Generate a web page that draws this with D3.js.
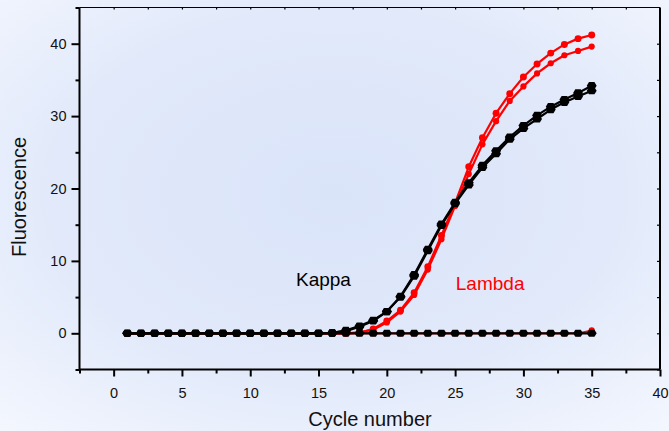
<!DOCTYPE html>
<html>
<head>
<meta charset="utf-8">
<script src="https://cdn.jsdelivr.net/npm/d3@7"></script>
<style>
html,body{margin:0;padding:0;}
svg{display:block;font-family:"Liberation Sans",Arial,sans-serif;}
</style>
</head>
<body>
<svg id="chart" width="669" height="431"></svg>
<script>
const cycles = d3.range(1, 36);
const kappa1 = [0,0,0,0,0,0,0,0,0,0,0,0,0,0,0,0.05,0.3,0.9,1.7,3.0,5.1,8.1,11.6,15.1,18.1,20.8,23.2,25.2,27.1,28.7,30.1,31.3,32.3,33.2,34.2];
const kappa2 = [0,0,0,0,0,0,0,0,0,0,0,0,0,0,0,0.05,0.4,1.0,1.8,3.0,5.0,7.9,11.4,14.9,17.9,20.5,22.9,24.8,26.8,28.3,29.6,30.9,31.9,32.7,33.5];
const lambda1 = [0,0,0,0,0,0,0,0,0,0,0,0,0,0,0,0,0,0.1,0.6,1.7,3.2,5.6,9.2,13.5,18.0,23.0,27.0,30.4,33.1,35.4,37.2,38.7,39.9,40.7,41.2];
const lambda2 = [0,0,0,0,0,0,0,0,0,0,0,0,0,0,0,0,0,0.1,0.5,1.5,3.0,5.3,8.8,13.0,17.6,22.0,26.1,29.3,32.1,34.1,35.9,37.3,38.4,39.0,39.6];
const kappaNeg = [0,0,0,0,0,0,0,0,0,0,0,0,0,0,0,0,0,0,0,0,0,0,0,0,0,0,0,0,0,0,0,0,0,0,0];
const lambdaNeg = [0,0,0,0,0,0,0,0,0,0,0,0,0,0,0,0,0,0,0,0,0,0,0,0,0,0,0,0,0,0,0,0,0,0,0.4];
const xTicks = [0,5,10,15,20,25,30,35,40];
const yTicks = [0,10,20,30,40];
const xTitle = "Cycle number";
const yTitle = "Fluorescence";
const labels = [{text:"Kappa", color:"#000000", x:13.35, y:6.5},{text:"Lambda", color:"#ff0000", x:25.05, y:6.0}];

const svg = d3.select("#chart");
const W = 669, H = 431;
const defs = svg.append("defs");
const grad = defs.append("radialGradient").attr("id","bg").attr("cx","50%").attr("cy","45%").attr("r","75%");
grad.append("stop").attr("offset","0%").attr("stop-color","#dae4f9");
grad.append("stop").attr("offset","55%").attr("stop-color","#e1e9fa");
grad.append("stop").attr("offset","100%").attr("stop-color","#f4f7fe");
svg.append("rect").attr("width",W).attr("height",H).attr("fill","url(#bg)");

const pL = 79.5, pR = 660, pT = 7.5, pB = 369.5;
const x = d3.scaleLinear().domain([-2.5, 40]).range([pL, pR]);
const y = d3.scaleLinear().domain([-5, 45]).range([pB, pT]);

const axisColor = "#000";
const g = svg.append("g");
g.append("line").attr("x1",pL).attr("x2",pR).attr("y1",pB).attr("y2",pB).attr("stroke",axisColor).attr("stroke-width",2);
g.append("line").attr("x1",pL).attr("x2",pL).attr("y1",pT).attr("y2",pB).attr("stroke",axisColor).attr("stroke-width",2);
g.append("line").attr("x1",pR).attr("x2",pR).attr("y1",pT).attr("y2",pB).attr("stroke",axisColor).attr("stroke-width",2);
g.append("line").attr("x1",pL).attr("x2",pR).attr("y1",pT).attr("y2",pT).attr("stroke",axisColor).attr("stroke-width",1.2);

const xb = svg.append("g").attr("transform",`translate(0,${pB})`)
  .call(d3.axisBottom(x).tickValues(xTicks).tickSize(7).tickPadding(11).tickFormat(d3.format("d")));
const xm = svg.append("g").attr("transform",`translate(0,${pB})`)
  .call(d3.axisBottom(x).tickValues(d3.range(-2.5, 40, 5)).tickSize(4).tickFormat(""));
const yl = svg.append("g").attr("transform",`translate(${pL},0)`)
  .call(d3.axisLeft(y).tickValues(yTicks).tickSize(8).tickPadding(5).tickFormat(d3.format("d")));
const ym = svg.append("g").attr("transform",`translate(${pL},0)`)
  .call(d3.axisLeft(y).tickValues([-5,5,15,25,35,45]).tickSize(4).tickFormat(""));
const yr = svg.append("g").attr("transform",`translate(${pR},0)`)
  .call(d3.axisLeft(y).tickValues([-5,0,5,10,15,20,25,30,35,40]).tickSize(3).tickFormat(""));
const xt = svg.append("g").attr("transform",`translate(0,${pT})`)
  .call(d3.axisBottom(x).tickValues(d3.range(0, 40, 2.5)).tickSize(2).tickFormat(""));
[xb,xm,yl,ym,yr,xt].forEach(a=>{
  a.select(".domain").remove();
  a.selectAll(".tick line").attr("stroke",axisColor).attr("stroke-width",2);
  a.selectAll("text").attr("font-size","14.5px").attr("fill","#111").attr("font-family","Liberation Sans, Arial, sans-serif");
});
xt.selectAll(".tick line").attr("stroke-width",1.2);
yr.selectAll(".tick line").attr("stroke-width",1.2);

svg.append("text").attr("x",370).attr("y",426).attr("text-anchor","middle")
  .attr("font-size","20px").attr("fill","#111").text(xTitle);
svg.append("text").attr("transform","translate(26,197) rotate(-90)").attr("text-anchor","middle")
  .attr("font-size","20px").attr("fill","#111").text(yTitle);

// blob marker: hexagon pointed left/right
const blob = {draw(ctx, size){
  const w = Math.sqrt(size)*0.62, h = w*0.72, s = w*0.55;
  ctx.moveTo(-w,0); ctx.lineTo(-s,-h); ctx.lineTo(s,-h); ctx.lineTo(w,0); ctx.lineTo(s,h); ctx.lineTo(-s,h); ctx.closePath();
}};
const line = d3.line().x((d,i)=>x(cycles[i])).y(d=>y(d));
function drawSeries(vals, color, sym, size, width){
  const sg = svg.append("g");
  sg.append("path").attr("d", line(vals)).attr("fill","none").attr("stroke",color).attr("stroke-width",width).attr("stroke-linejoin","round");
  sg.selectAll("path.m").data(vals).join("path").attr("class","m")
    .attr("transform",(d,i)=>`translate(${x(cycles[i])},${y(d)})`)
    .attr("d", d3.symbol().type(sym).size(size)()).attr("fill",color);
}
drawSeries(lambdaNeg, "#ff0000", d3.symbolCircle, 30, 1.8);
drawSeries(lambda2, "#ff0000", d3.symbolCircle, 30, 2.2);
drawSeries(lambda1, "#ff0000", d3.symbolCircle, 38, 2.2);
drawSeries(kappaNeg, "#000000", blob, 64, 2.2);
drawSeries(kappa2, "#000000", blob, 64, 2.2);
drawSeries(kappa1, "#000000", blob, 64, 2.2);

labels.forEach(l=>{
  svg.append("text").attr("x",x(l.x)).attr("y",y(l.y)).attr("font-size","19px").attr("fill",l.color).text(l.text);
});
</script>
</body>
</html>
